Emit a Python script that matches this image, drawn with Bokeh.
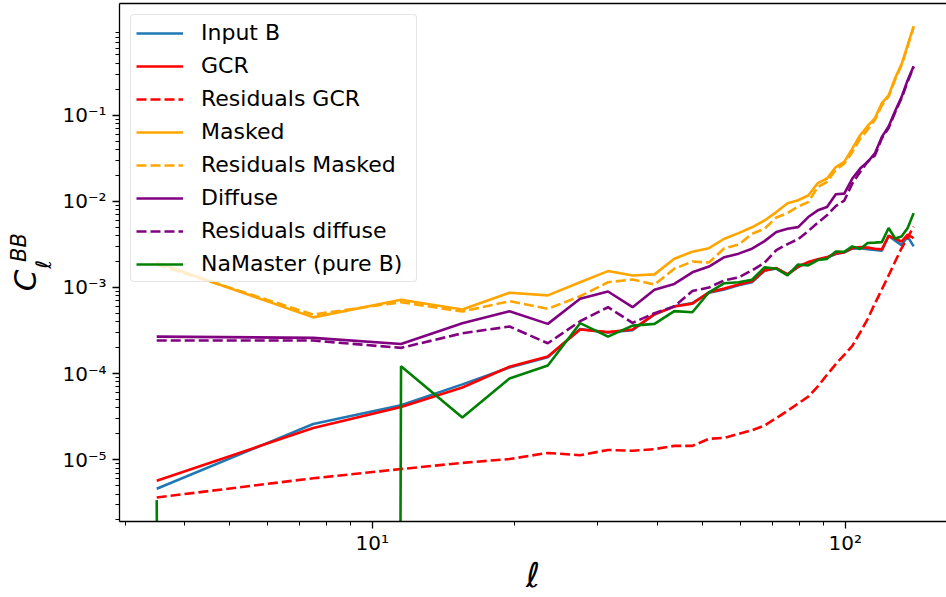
import numpy as np
from bokeh.plotting import figure
from bokeh.models import FixedTicker, LogAxis, Range1d
from bokeh.layouts import row
from bokeh.core.properties import value
from bokeh.embed import file_html
from bokeh.resources import INLINE

# Multipole bin centres (bins of width 4 starting at ell = 2)
ell = [3.5, 7.5, 11.5, 15.5, 19.5, 23.5, 27.5, 31.5, 35.5, 39.5, 43.5, 47.5,
       51.5, 55.5, 59.5, 63.5, 67.5, 71.5, 75.5, 79.5, 83.5, 87.5, 91.5, 95.5,
       99.5, 103.5, 107.5, 111.5, 115.5, 119.5, 123.5, 127.5, 131.5, 135.5, 139.5]

input_b = [4.6e-6, 2.6e-5, 4.3e-5, 7.5e-5, 1.18e-4, 1.55e-4, 3.3e-4, 3.0e-4, 3.2e-4,
           4.85e-4, 6.05e-4, 6.6e-4, 8.7e-4, 9.5e-4, 1.06e-3, 1.15e-3, 1.56e-3, 1.66e-3,
           1.42e-3, 1.72e-3, 1.95e-3, 2.1e-3, 2.22e-3, 2.45e-3, 2.55e-3, 2.82e-3, 2.85e-3,
           2.78e-3, 2.72e-3, 2.68e-3, 4.0e-3, 3.5e-3, 3.1e-3, 3.9e-3, 3.0e-3]

gcr = [5.7e-6, 2.34e-5, 4.1e-5, 6.9e-5, 1.2e-4, 1.58e-4, 3.25e-4, 3.03e-4, 3.25e-4,
       4.9e-4, 6.0e-4, 6.5e-4, 8.8e-4, 9.7e-4, 1.08e-3, 1.18e-3, 1.58e-3, 1.68e-3,
       1.42e-3, 1.75e-3, 1.97e-3, 2.13e-3, 2.25e-3, 2.48e-3, 2.57e-3, 2.86e-3, 2.94e-3,
       2.9e-3, 2.82e-3, 2.77e-3, 3.95e-3, 3.7e-3, 3.4e-3, 4.1e-3, 3.75e-3]

resid_gcr = [3.65e-6, 6.1e-6, 7.8e-6, 9.2e-6, 1.02e-5, 1.2e-5, 1.13e-5, 1.3e-5, 1.27e-5,
             1.33e-5, 1.45e-5, 1.45e-5, 1.75e-5, 1.8e-5, 2.0e-5, 2.2e-5, 2.5e-5, 3.05e-5,
             3.7e-5, 4.5e-5, 5.4e-5, 7.1e-5, 9.7e-5, 1.29e-4, 1.65e-4, 2.1e-4, 3.0e-4,
             4.3e-4, 6.5e-4, 9.5e-4, 1.38e-3, 2.0e-3, 2.85e-3, 3.8e-3, 5.1e-3]

masked = [1.95e-3, 4.5e-4, 7.2e-4, 5.55e-4, 8.7e-4, 8.1e-4, 1.15e-3, 1.55e-3, 1.38e-3,
          1.42e-3, 2.16e-3, 2.6e-3, 2.86e-3, 3.68e-3, 4.28e-3, 5.0e-3, 6.0e-3, 7.5e-3,
          9.5e-3, 1.03e-2, 1.17e-2, 1.63e-2, 1.84e-2, 2.5e-2, 2.87e-2, 4.1e-2, 5.85e-2,
          7.5e-2, 9.2e-2, 0.138, 0.17, 0.27, 0.39, 0.65, 1.08]

resid_masked = [1.85e-3, 4.85e-4, 6.75e-4, 5.26e-4, 6.93e-4, 5.65e-4, 7.92e-4, 1.15e-3, 1.24e-3,
                1.08e-3, 1.65e-3, 2.0e-3, 1.95e-3, 2.85e-3, 3.15e-3, 4.2e-3, 4.8e-3, 6.5e-3,
                7.3e-3, 8.7e-3, 9.8e-3, 1.47e-2, 1.68e-2, 2.33e-2, 2.74e-2, 3.74e-2, 5.3e-2,
                6.8e-2, 8.8e-2, 0.13, 0.165, 0.26, 0.38, 0.63, 1.05]

diffuse = [2.69e-4, 2.6e-4, 2.21e-4, 3.85e-4, 5.31e-4, 3.78e-4, 7.38e-4, 8.98e-4, 5.9e-4,
           9.4e-4, 1.1e-3, 1.5e-3, 1.75e-3, 2.25e-3, 2.47e-3, 2.82e-3, 3.45e-3, 4.4e-3,
           4.81e-3, 5.02e-3, 6.57e-3, 7.86e-3, 8.59e-3, 1.21e-2, 1.23e-2, 1.84e-2, 2.4e-2,
           2.86e-2, 3.6e-2, 5.6e-2, 7.4e-2, 0.112, 0.162, 0.255, 0.37]

resid_diffuse = [2.42e-4, 2.42e-4, 1.99e-4, 2.94e-4, 3.52e-4, 2.25e-4, 4.06e-4, 5.9e-4, 3.88e-4,
                 5.03e-4, 6.01e-4, 9.1e-4, 1.0e-3, 1.21e-3, 1.31e-3, 1.58e-3, 1.94e-3, 2.72e-3,
                 3.19e-3, 3.64e-3, 4.52e-3, 5.65e-3, 6.88e-3, 8.82e-3, 1.02e-2, 1.61e-2, 2.19e-2,
                 2.9e-2, 3.4e-2, 5.4e-2, 7.1e-2, 0.108, 0.157, 0.245, 0.365]

# pure-B estimate; the second bin comes out negative
namaster = [3.4e-6, -2.0e-5, 1.22e-4, 3.1e-5, 8.8e-5, 1.24e-4, 3.85e-4, 2.69e-4, 3.61e-4,
            3.78e-4, 5.31e-4, 5.16e-4, 8.8e-4, 1.12e-3, 1.15e-3, 1.23e-3, 1.71e-3, 1.65e-3,
            1.38e-3, 1.85e-3, 1.8e-3, 2.08e-3, 2.15e-3, 2.62e-3, 2.6e-3, 3.0e-3, 2.8e-3,
            3.28e-3, 3.32e-3, 3.36e-3, 4.9e-3, 3.7e-3, 3.9e-3, 4.9e-3, 7.3e-3]

x_major = [10, 100]
x_major_labels = ["10\u00b9", "10\u00b2"]
x_minor = [3, 4, 5, 6, 7, 8, 9, 20, 30, 40, 50, 60, 70, 80, 90]
y_major = [1e-5, 1e-4, 1e-3, 1e-2, 1e-1]
y_major_labels = ["10\u207b\u2075", "10\u207b\u2074", "10\u207b\u00b3", "10\u207b\u00b2", "10\u207b\u00b9"]
y_minor = [m * 10.0 ** k for k in range(-6, 0) for m in range(2, 10)]

FONT = "DejaVu Sans"
W, H = 946, 597
TITLE_W = 56   # strip on the left that carries the y-axis title
BORDER_TOP, BORDER_BOTTOM = 3, 76


def clip_log(v):
    # non-positive values are pushed far below the axis, as a log plot clips them
    a = np.asarray(v, dtype=float)
    return np.where(a > 0, a, 1e-300)


p = figure(width=W - TITLE_W, height=H, x_axis_type="log", y_axis_type="log",
           x_range=(2.92, 163.7), y_range=(1.92e-6, 1.98),
           output_backend="svg", toolbar_location=None,
           min_border_left=119 - TITLE_W, min_border_right=0,
           min_border_top=BORDER_TOP, min_border_bottom=BORDER_BOTTOM)
p.outline_line_color = None
p.xgrid.visible = False
p.ygrid.visible = False
p.background_fill_color = "white"
p.border_fill_color = "white"

LW = 2.6
DASH = "10 4"
series = [
    (input_b, "#1f77b4", "solid", "Input B"),
    (gcr, "red", "solid", "GCR"),
    (resid_gcr, "red", DASH, "Residuals GCR"),
    (masked, "orange", "solid", "Masked"),
    (resid_masked, "orange", DASH, "Residuals Masked"),
    (diffuse, "purple", "solid", "Diffuse"),
    (resid_diffuse, "purple", DASH, "Residuals diffuse"),
    (namaster, "green", "solid", "NaMaster (pure B)"),
]
for vals, col, dash, lab in series:
    p.line(ell, clip_log(vals), line_color=col, line_width=LW, line_dash=dash,
           legend_label=lab)

# axes
p.xaxis.ticker = FixedTicker(ticks=x_major, minor_ticks=x_minor)
p.xaxis.major_label_overrides = dict(zip(x_major, x_major_labels))
p.yaxis.ticker = FixedTicker(ticks=y_major, minor_ticks=y_minor)
p.yaxis.major_label_overrides = dict(zip(y_major, y_major_labels))
for ax in (p.xaxis[0], p.yaxis[0]):
    ax.axis_line_color = "black"
    ax.axis_line_width = 1.3
    ax.major_tick_line_color = "black"
    ax.major_tick_line_width = 1.3
    ax.minor_tick_line_color = "black"
    ax.minor_tick_line_width = 1.0
    ax.major_tick_out = 7
    ax.major_tick_in = 0
    ax.minor_tick_out = 4
    ax.minor_tick_in = 0
    ax.major_label_text_font = FONT
    ax.major_label_text_font_size = "20px"
    ax.major_label_text_color = "black"
p.xaxis.major_label_standoff = 2
p.yaxis.major_label_standoff = 6

p.xaxis.axis_label = "\u2113"
p.xaxis.axis_label_text_font = FONT
p.xaxis.axis_label_text_font_style = "italic"
p.xaxis.axis_label_text_font_size = "34px"
p.xaxis.axis_label_text_color = "black"
p.xaxis.axis_label_standoff = -3

top = LogAxis(ticker=FixedTicker(ticks=[]), axis_line_color="black", axis_line_width=1.3,
              major_tick_out=0, major_tick_in=0, minor_tick_out=0, minor_tick_in=0,
              major_label_standoff=0)
p.add_layout(top, "above")

# legend
lg = p.legend[0]
lg.location = "top_left"
lg.margin = 11
lg.padding = 5
lg.spacing = 8
lg.label_text_font = FONT
lg.label_text_font_size = "22px"
lg.label_text_color = "black"
lg.glyph_width = 47
lg.glyph_height = 22
lg.label_height = 22
lg.label_width = 210
lg.label_standoff = 18
lg.border_line_color = "#cccccc"
lg.border_line_width = 1.2
lg.background_fill_alpha = 0.8
if "border_radius" in lg.properties():
    lg.border_radius = 4

# y-axis title C_ell^BB as rotated text in its own strip; the strip's frame is
# aligned with the main frame, so its y range spans the same pixel rows
t = figure(width=TITLE_W, height=H, x_range=Range1d(0, TITLE_W),
           y_range=Range1d(H - BORDER_BOTTOM, BORDER_TOP),
           output_backend="svg", toolbar_location=None, min_border=0, title=None,
           x_axis_location=None, y_axis_location=None,
           min_border_top=BORDER_TOP, min_border_bottom=BORDER_BOTTOM)
t.grid.visible = False
t.outline_line_color = None
t.background_fill_color = "white"
t.border_fill_color = "white"
title_parts = [("C", 24, 280, "31px"), ("BB", 18, 247, "21px"), ("\u2113", 43, 264, "21px")]
for txt, tx, ty, size in title_parts:
    t.text(x=[tx], y=[ty], text=[txt], angle=np.pi / 2, text_font=value(FONT),
           text_font_style="italic", text_font_size=size, text_align="center",
           text_baseline="middle", text_color="black")

layout = row(t, p, spacing=0)

with open("out.html", "w") as f:
    f.write(file_html(layout, INLINE))
